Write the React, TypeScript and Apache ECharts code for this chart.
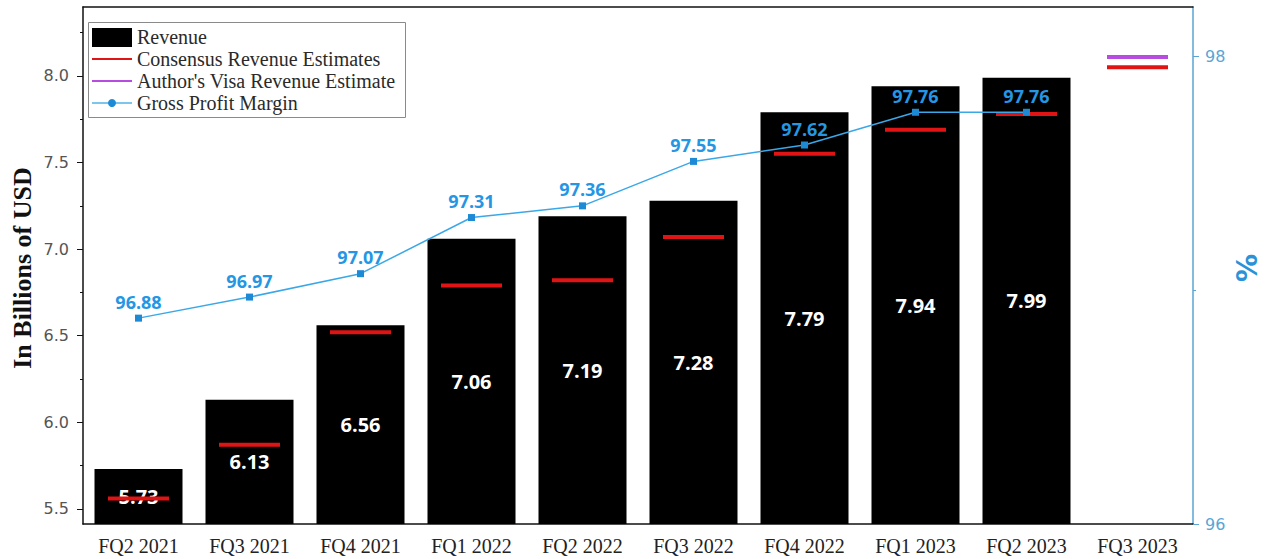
import React, { useEffect, useRef } from "react";
import * as echarts from "echarts";

const categories = ["FQ2 2021", "FQ3 2021", "FQ4 2021", "FQ1 2022", "FQ2 2022", "FQ3 2022", "FQ4 2022", "FQ1 2023", "FQ2 2023", "FQ3 2023"];
const revenue = [5.73, 6.13, 6.56, 7.06, 7.19, 7.28, 7.79, 7.94, 7.99, null];
const consensus = [5.56, 5.87, 6.52, 6.79, 6.82, 7.07, 7.55, 7.69, 7.78, 8.05];
const authorEstimate = [null, null, null, null, null, null, null, null, null, 8.11];
const grossMargin = [96.88, 96.97, 97.07, 97.31, 97.36, 97.55, 97.62, 97.76, 97.76, null];
const leftTicks = [5.5, 6.0, 6.5, 7.0, 7.5, 8.0];
const leftMinorTicks = [5.75, 6.25, 6.75, 7.25, 7.75, 8.25];
const rightTicks = [96, 98];
const rightMinorTicks = [97];
const legendNames = ["Revenue", "Consensus Revenue Estimates", "Author's Visa Revenue Estimate", "Gross Profit Margin"];

const LEFT_MIN = 5.413;
const LEFT_MAX = 8.398;
const RIGHT_MIN = 96;
const RIGHT_MAX = 98.21;

const BLUE_LINE = "#3aa8e8";
const BLUE_DARK = "#1d8ad6";
const BLUE_TEXT = "#2596e4";
const BLUE_AXIS = "#5aa5d5";
const RED = "#e01414";
const PURPLE = "#b84ce0";

export default function App() {
  const ref = useRef<HTMLDivElement>(null);

  useEffect(() => {
    if (!ref.current) return;
    const chart = echarts.init(ref.current, null, { renderer: "svg" });

    const legendY = [37, 59, 81, 103];
    const legendGraphics: any[] = [
      {
        type: "rect",
        shape: { x: 88.5, y: 22.5, width: 317, height: 95 },
        style: { fill: "#fff", stroke: "#8a8a8a", lineWidth: 1 },
        z: 100,
      },
      {
        type: "rect",
        shape: { x: 92, y: 28, width: 40, height: 19 },
        style: { fill: "#000" },
        z: 101,
      },
      {
        type: "line",
        shape: { x1: 92, y1: legendY[1], x2: 132, y2: legendY[1] },
        style: { stroke: RED, lineWidth: 2 },
        z: 101,
      },
      {
        type: "line",
        shape: { x1: 92, y1: legendY[2], x2: 132, y2: legendY[2] },
        style: { stroke: PURPLE, lineWidth: 2 },
        z: 101,
      },
      {
        type: "line",
        shape: { x1: 92, y1: legendY[3], x2: 132, y2: legendY[3] },
        style: { stroke: "#7cc6ee", lineWidth: 2 },
        z: 101,
      },
      {
        type: "circle",
        shape: { cx: 112, cy: legendY[3], r: 4 },
        style: { fill: BLUE_DARK },
        z: 102,
      },
      ...legendNames.map((name, i) => ({
        type: "text",
        x: 137,
        y: legendY[i],
        style: {
          text: name,
          fill: "#2a2a2a",
          font: "20px 'Liberation Serif'",
          textAlign: "left",
          textVerticalAlign: "middle",
        },
        z: 102,
      })),
      {
        type: "text",
        x: 22,
        y: 268,
        rotation: Math.PI / 2,
        style: {
          text: "In Billions of USD",
          fill: "#111",
          font: "bold 26px 'Liberation Serif'",
          textAlign: "center",
          textVerticalAlign: "middle",
        },
      },
      {
        type: "text",
        x: 1247,
        y: 268,
        rotation: Math.PI / 2,
        style: {
          text: "%",
          fill: "#2a93d8",
          font: "bold 28px 'DejaVu Sans'",
          textAlign: "center",
          textVerticalAlign: "middle",
        },
      },
    ];

    const option: any = {
      animation: false,
      backgroundColor: "#fff",
      grid: { left: 83, right: 75, top: 7, bottom: 35, containLabel: false, outerBoundsMode: "none" },
      xAxis: [
        {
          type: "category",
          position: "bottom",
          data: categories,
          axisLine: { lineStyle: { color: "#111", width: 1.5 } },
          axisTick: { alignWithLabel: true, length: 6, lineStyle: { color: "#111" } },
          axisLabel: { color: "#222", fontFamily: "Liberation Serif", fontSize: 20, margin: 12, interval: 0 },
          splitLine: { show: false },
        },
        {
          type: "category",
          position: "bottom",
          data: categories,
          axisLine: { show: false },
          axisTick: { alignWithLabel: false, length: 3, interval: 0, lineStyle: { color: "#111" } },
          axisLabel: { show: false },
          splitLine: { show: false },
        },
        {
          type: "category",
          position: "top",
          data: categories,
          axisLine: { lineStyle: { color: "#111", width: 1.5 } },
          axisTick: { alignWithLabel: true, inside: true, length: 5, lineStyle: { color: "#111" } },
          axisLabel: { show: false },
          splitLine: { show: false },
        },
        {
          type: "category",
          position: "top",
          data: categories,
          axisLine: { show: false },
          axisTick: { alignWithLabel: false, inside: true, length: 3, interval: 0, lineStyle: { color: "#111" } },
          axisLabel: { show: false },
          splitLine: { show: false },
        },
      ],
      yAxis: [
        {
          type: "value",
          position: "left",
          min: LEFT_MIN,
          max: LEFT_MAX,
          axisLine: { show: true, lineStyle: { color: "#111", width: 1.5 } },
          axisTick: { show: true, length: 6, customValues: leftTicks, lineStyle: { color: "#111" } },
          axisLabel: {
            customValues: leftTicks,
            formatter: (v: number) => v.toFixed(1),
            color: "#555",
            fontFamily: "DejaVu Sans",
            fontSize: 16,
            margin: 14,
          },
          splitLine: { show: false },
        },
        {
          type: "value",
          position: "left",
          min: LEFT_MIN,
          max: LEFT_MAX,
          axisLine: { show: false },
          axisTick: { show: true, length: 3, customValues: leftMinorTicks, lineStyle: { color: "#111" } },
          axisLabel: { show: false },
          splitLine: { show: false },
        },
        {
          type: "value",
          position: "right",
          min: RIGHT_MIN,
          max: RIGHT_MAX,
          axisLine: { show: true, lineStyle: { color: BLUE_AXIS, width: 1.5 } },
          axisTick: { show: true, length: 6, customValues: rightTicks, lineStyle: { color: BLUE_AXIS } },
          axisLabel: {
            customValues: rightTicks,
            color: BLUE_AXIS,
            fontFamily: "DejaVu Sans",
            fontSize: 16,
            margin: 12,
          },
          splitLine: { show: false },
        },
        {
          type: "value",
          position: "right",
          min: RIGHT_MIN,
          max: RIGHT_MAX,
          axisLine: { show: false },
          axisTick: { show: true, length: 3, customValues: rightMinorTicks, lineStyle: { color: BLUE_AXIS } },
          axisLabel: { show: false },
          splitLine: { show: false },
        },
      ],
      series: [
        {
          name: legendNames[0],
          type: "bar",
          xAxisIndex: 0,
          yAxisIndex: 0,
          data: revenue,
          barWidth: 88,
          itemStyle: { color: "#000" },
          label: {
            show: true,
            position: "inside",
            color: "#fff",
            fontFamily: "Open Sans",
            fontWeight: "bold",
            fontSize: 20,
          },
          z: 2,
        },
        {
          name: legendNames[1],
          type: "scatter",
          xAxisIndex: 0,
          yAxisIndex: 0,
          data: consensus,
          symbol: "rect",
          symbolSize: [61, 4],
          itemStyle: { color: RED, opacity: 1 },
          z: 3,
        },
        {
          name: legendNames[2],
          type: "scatter",
          xAxisIndex: 0,
          yAxisIndex: 0,
          data: authorEstimate,
          symbol: "rect",
          symbolSize: [61, 4],
          itemStyle: { color: PURPLE, opacity: 1 },
          z: 3,
        },
        {
          name: legendNames[3],
          type: "line",
          xAxisIndex: 0,
          yAxisIndex: 2,
          data: grossMargin,
          symbol: "rect",
          symbolSize: 7,
          lineStyle: { color: BLUE_LINE, width: 1.5 },
          itemStyle: { color: BLUE_DARK },
          label: {
            show: true,
            position: "top",
            distance: 4,
            color: BLUE_TEXT,
            fontFamily: "Open Sans",
            fontWeight: "bold",
            fontSize: 18,
          },
          z: 5,
        },
      ],
      graphic: legendGraphics,
    };

    chart.setOption(option);
    return () => {
      chart.dispose();
    };
  }, []);

  return (
    <div
      ref={ref}
      style={{ position: "fixed", left: 0, top: 0, width: 1268, height: 559, background: "#fff" }}
    />
  );
}
